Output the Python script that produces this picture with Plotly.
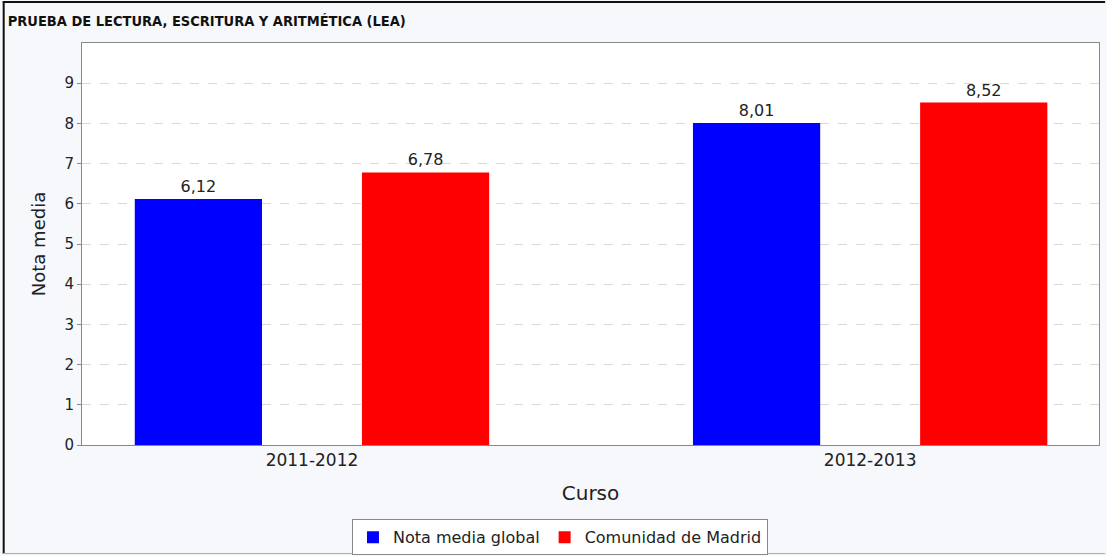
import plotly.graph_objects as go

cursos = ["2011-2012", "2012-2013"]
nota_global = [6.12, 8.01]
nota_madrid = [6.78, 8.52]
y_ticks = [0, 1, 2, 3, 4, 5, 6, 7, 8, 9]

font_family = "DejaVu Sans"

fig = go.Figure()
fig.add_trace(go.Bar(
    x=cursos, y=nota_global, name="Nota media global",
    marker=dict(color="#0000FF", line=dict(width=0)),
    texttemplate="%{y:.2f}", textposition="outside",
    textfont=dict(size=16, color="#222222"), cliponaxis=False,
))
fig.add_trace(go.Bar(
    x=cursos, y=nota_madrid, name="Comunidad de Madrid",
    marker=dict(color="#FF0000", line=dict(width=0)),
    texttemplate="%{y:.2f}", textposition="outside",
    textfont=dict(size=16, color="#222222"), cliponaxis=False,
))

fig.update_layout(
    width=1107, height=556,
    separators=",.",
    barmode="group", bargap=0.186, bargroupgap=0.44,
    paper_bgcolor="#F7F8FC", plot_bgcolor="#FFFFFF",
    margin=dict(l=82, r=8, t=43, b=111),
    font=dict(family=font_family, size=15, color="#222222"),
    title=dict(
        text="<b>PRUEBA DE LECTURA, ESCRITURA Y ARITMÉTICA (LEA)</b>",
        x=0.007, xanchor="left", y=0.962, yanchor="middle",
        font=dict(family="DejaVu Sans Condensed, Liberation Sans Narrow, Liberation Sans", size=14.5, color="#111111"),
    ),
    xaxis=dict(
        range=[-0.412, 1.41], automargin=False,
        title=dict(text="Curso", font=dict(size=20), standoff=16),
        showline=True, linecolor="#888888", linewidth=1, mirror=True,
        ticks="", tickfont=dict(size=17), showgrid=False,
    ),
    yaxis=dict(
        range=[0, 10], tickvals=y_ticks, automargin=False,
        title=dict(text="Nota media", font=dict(size=18), standoff=14),
        showline=True, linecolor="#888888", linewidth=1, mirror=True,
        ticks="outside", ticklen=4, tickcolor="#888888", tickfont=dict(size=15),
        showgrid=True, gridcolor="#D8D8D8", griddash="dash", gridwidth=1, zeroline=False,
    ),
    legend=dict(
        orientation="h", x=0.47, xanchor="center",
        yref="container", y=0.066, yanchor="top",
        bgcolor="#FFFFFF", bordercolor="#888888", borderwidth=1,
        font=dict(size=16), itemwidth=30, traceorder="normal",
    ),
)

# outer frame of the picture
fig.add_shape(type="line", xref="paper", yref="paper", x0=-0.078, x1=1.006, y0=1.102, y1=1.102,
              line=dict(color="#111111", width=2))
fig.add_shape(type="line", xref="paper", yref="paper", x0=-0.077, x1=-0.077, y0=-0.27, y1=1.102,
              line=dict(color="#111111", width=2))
fig.add_shape(type="line", xref="paper", yref="paper", x0=-0.078, x1=1.006, y0=-0.27, y1=-0.27,
              line=dict(color="#AAAAAA", width=1))

fig.write_html("out.html", config={"displayModeBar": False},
               post_script="document.body.style.margin='0';")
